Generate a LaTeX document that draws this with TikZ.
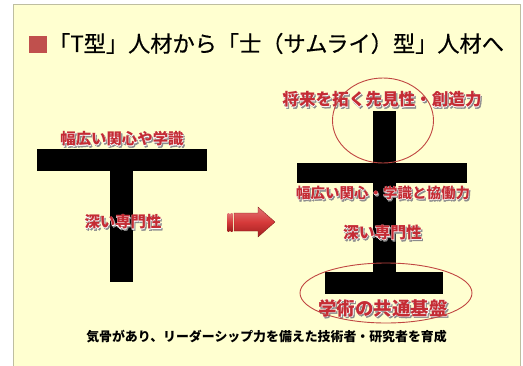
\documentclass[tikz,border=0pt]{standalone}
\usepackage{fontspec}
\newfontfamily\jp{Noto Sans CJK JP}
\newfontfamily\jptitle[FakeBold=0.6]{Noto Sans CJK JP}
\newfontfamily\jpglow[FakeBold=3]{Noto Sans CJK JP}
\definecolor{slidebg}{RGB}{255,255,208}
\definecolor{frameline}{RGB}{190,190,160}
\definecolor{labelred}{RGB}{196,44,52}
\definecolor{ringred}{RGB}{192,70,66}
\definecolor{squarered}{RGB}{192,80,77}
\definecolor{arrowred}{RGB}{214,58,58}
\definecolor{arrowdark}{RGB}{160,30,30}
\tikzset{
  bar/.style={fill=black, draw=none},
  ring/.style={draw=ringred, line width=0.9pt},
  shadowtxt/.style={text=black!45, inner sep=0pt},
  glowtxt/.style={text=white, inner sep=0pt},
  lbltxt/.style={text=labelred, inner sep=0pt},
}
% name, position, size, text
\newcommand\fancylabel[4]{%
  \node[shadowtxt, font=\jpglow\bfseries\fontsize{#3}{#3}\selectfont, shift={(1.2,1.4)}] (#1s) at (#2) {#4};
  \node[glowtxt, font=\jpglow\bfseries\fontsize{#3}{#3}\selectfont] (#1g) at (#2) {#4};
  \node[lbltxt, font=\jp\bfseries\fontsize{#3}{#3}\selectfont] (#1) at (#2) {#4};
}
\begin{document}
\begin{tikzpicture}[x=1pt,y=-1pt]
\useasboundingbox (0,0) rectangle (523,365);
\fill[white] (0,0) rectangle (523,365);
% slide frame
\draw[frameline, fill=slidebg, line width=0.8pt] (13.5,4.5) rectangle (520.5,372);
% title
\fill[squarered] (29,35.5) rectangle (47,53);
\node[anchor=west, inner sep=0pt, font=\jptitle\fontsize{22.2}{22}\selectfont] (title) at (48,43.5) {「T型」人材から「士（サムライ）型」人材へ};
% T shape
\fill[bar] (37,149) rectangle (207,171);
\fill[bar] (110,171) rectangle (133,282);
\fancylabel{lbroad}{122,139}{15.4}{幅広い関心や学識}
\fancylabel{ldeep}{123,222}{15.4}{深い専門性}
% arrow
\shade[top color=arrowred!70!white, bottom color=arrowdark, middle color=arrowred, draw=arrowdark!80!black, line width=0.3pt]
  (234,213) -- (258,213) -- (258,207) -- (275,222) -- (258,237) -- (258,231) -- (234,231) -- cycle;
\shade[top color=arrowred!70!white, bottom color=arrowdark, middle color=arrowred] (227.5,213) rectangle (229.3,231);
\shade[top color=arrowred!70!white, bottom color=arrowdark, middle color=arrowred] (230.6,213) rectangle (232.6,231);
% samurai shape
\fill[bar] (373,111) rectangle (396,163);
\fill[bar] (297,163) rectangle (467,183);
\fill[bar] (373,183) rectangle (396,272);
\fill[bar] (325,272) rectangle (443,294);
\fancylabel{foresight}{382,99.5}{16.6}{将来を拓く先見性・創造力}
\fancylabel{rbroad}{383,193}{14.5}{幅広い関心・学識と協働力}
\fancylabel{rdeep}{382.5,232.5}{15.8}{深い専門性}
\fancylabel{base}{383,308}{18.5}{学術の共通基盤}
\draw[ring] (383,120.5) ellipse [x radius=50.5, y radius=42.5];
\draw[ring] (386,293) ellipse [x radius=86, y radius=30];
% bottom line
\node[inner sep=0pt, font=\jp\bfseries\fontsize{12.9}{13}\selectfont] (summary) at (266.5,336.5) {気骨があり、リーダーシップ力を備えた技術者・研究者を育成};
\end{tikzpicture}
\end{document}
